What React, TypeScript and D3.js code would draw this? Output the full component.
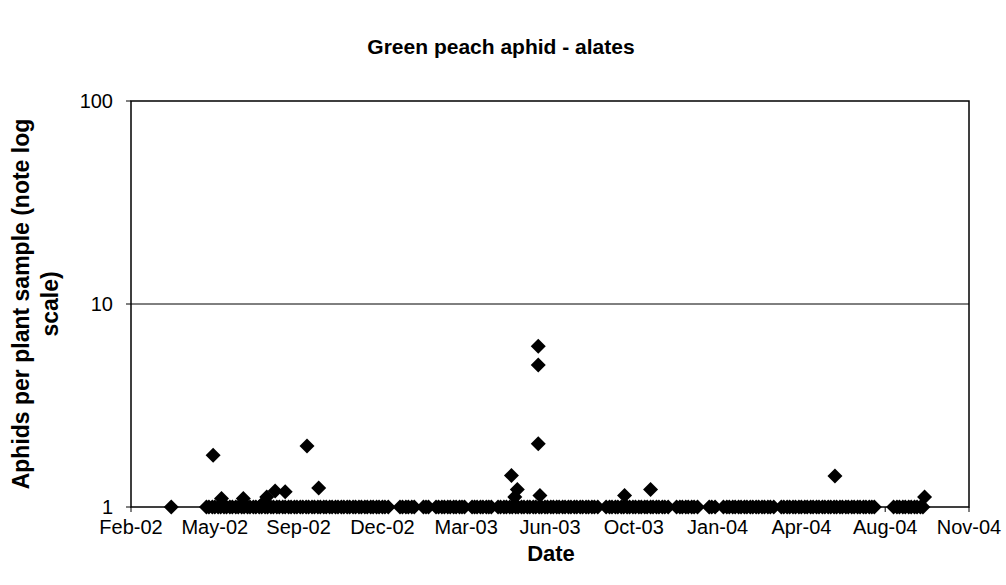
import React from "react";
import * as d3 from "d3";

// ---- data ----
const xTickDates = [
  "2002-02-14", "2002-05-25", "2002-09-02", "2002-12-11", "2003-03-21", "2003-06-29",
  "2003-10-07", "2004-01-15", "2004-04-24", "2004-08-02", "2004-11-10",
];
const xTickLabels = [
  "Feb-02", "May-02", "Sep-02", "Dec-02", "Mar-03", "Jun-03",
  "Oct-03", "Jan-04", "Apr-04", "Aug-04", "Nov-04",
];
const yTickValues = [1, 10, 100];
const yTickLabels = ["1", "10", "100"];

// sampling days (by month) where the mean was 1 (log-scale floor)
const baselineSamples: [string, number[]][] = [
  ["2002-04", [3]],
  ["2002-05", [15, 18, 22, 25, 29]],
  ["2002-06", [1, 5, 8, 12, 15, 19, 22, 26, 29]],
  ["2002-07", [3, 6, 10, 13, 17, 20, 24, 27, 31]],
  ["2002-08", [3, 7, 10, 14, 17, 21, 24, 28, 31]],
  ["2002-09", [4, 7, 11, 14, 18, 21, 25, 28]],
  ["2002-10", [2, 5, 9, 12, 16, 19, 23, 26, 30]],
  ["2002-11", [2, 6, 9, 13, 16, 20, 23, 27, 30]],
  ["2002-12", [4, 7, 11, 14, 18]],
  ["2003-01", [1, 4, 8, 11, 15, 18, 29]],
  ["2003-02", [1, 4, 13, 16, 20, 23, 27]],
  ["2003-03", [2, 6, 9, 13, 16, 19, 28, 31]],
  ["2003-04", [3, 7, 10, 14, 17, 20, 28]],
  ["2003-05", [1, 5, 8, 12, 15, 19, 22, 26, 29]],
  ["2003-06", [2, 5, 9, 12, 16, 19, 23, 26, 30]],
  ["2003-07", [3, 7, 10, 14, 17, 21, 24, 28, 31]],
  ["2003-08", [4, 7, 11, 14, 18, 21, 25]],
  ["2003-09", [4, 8, 11, 15, 18, 22, 25, 29]],
  ["2003-10", [2, 6, 9, 13, 16, 20, 23, 27, 30]],
  ["2003-11", [3, 6, 10, 13, 17, 27]],
  ["2003-12", [1, 4, 8, 11, 15, 18, 22]],
  ["2004-01", [5, 8, 12, 22, 26, 29]],
  ["2004-02", [2, 5, 9, 12, 16, 19, 23, 26]],
  ["2004-03", [1, 4, 8, 11, 15, 18, 22, 31]],
  ["2004-04", [3, 7, 10, 14, 17, 21, 24, 28]],
  ["2004-05", [1, 5, 8, 12, 15, 19, 22, 26, 29]],
  ["2004-06", [2, 5, 9, 12, 16, 19, 23, 26, 30]],
  ["2004-07", [3, 7, 10, 14, 17, 20]],
  ["2004-08", [12, 16, 19, 23, 26, 30]],
  ["2004-09", [2, 6, 9, 13, 16]],
];

// sampling dates with means above 1
const peakDates = [
  "2002-05-23", "2002-06-02", "2002-06-28", "2002-07-22", "2002-07-26", "2002-08-05", "2002-08-17",
  "2002-09-12", "2002-09-26",
  "2003-05-14", "2003-05-18", "2003-05-21", "2003-06-15", "2003-06-15", "2003-06-15", "2003-06-17",
  "2003-09-26", "2003-10-27",
  "2004-06-03", "2004-09-18",
];
const peakValues = [
  1.8, 1.1, 1.1, 1.05, 1.12, 1.2, 1.19,
  2.0, 1.24,
  1.43, 1.12, 1.22, 6.2, 5.0, 2.05, 1.14,
  1.14, 1.22,
  1.42, 1.12,
];

const W = 1006;
const H = 585;
const M = { left: 131, right: 969, top: 101, bottom: 507 };
const FONT = "'Liberation Sans', Arial, Helvetica, sans-serif";

export default function App() {
  const parse = d3.timeParse("%Y-%m-%d");
  const tickDates = xTickDates.map((d) => parse(d) as Date);
  const x = d3
    .scaleTime()
    .domain([tickDates[0], tickDates[tickDates.length - 1]])
    .range([M.left, M.right]);
  const y = d3.scaleLog().domain([1, 100]).range([M.bottom, M.top]);

  const baselinePoints = baselineSamples.flatMap(([month, days]) =>
    days.map((day) => ({ date: parse(`${month}-${String(day).padStart(2, "0")}`) as Date, v: 1 }))
  );
  const points = [
    ...baselinePoints,
    ...peakDates.map((d, i) => ({ date: parse(d) as Date, v: peakValues[i] })),
  ];

  const r = 7.5;
  const diamond = `M0,${-r}L${r},0L0,${r}L${-r},0Z`;

  return (
    <div style={{ position: "absolute", left: 0, top: 0 }}>
      <svg width={W} height={H} style={{ display: "block", background: "#fff" }} fontFamily={FONT}>
        <rect x={0} y={0} width={W} height={H} fill="#fff" />
        {/* title */}
        <text x={501} y={54} textAnchor="middle" fontSize={21} fontWeight="bold" fill="#000">
          Green peach aphid - alates
        </text>

        {/* gridline */}
        {yTickValues
          .filter((v) => v !== 1 && v !== 100)
          .map((v) => (
            <line key={v} x1={M.left} x2={M.right} y1={y(v)} y2={y(v)} stroke="#000" strokeWidth={1} />
          ))}

        {/* frame */}
        <rect
          x={M.left}
          y={M.top}
          width={M.right - M.left}
          height={M.bottom - M.top}
          fill="none"
          stroke="#000"
          strokeWidth={1.5}
        />

        {/* y ticks */}
        {yTickValues.map((v, i) => (
          <g key={v}>
            <line x1={M.left - 5} x2={M.left} y1={y(v)} y2={y(v)} stroke="#000" strokeWidth={1} />
            <text x={113} y={y(v)} dy="0.34em" textAnchor="end" fontSize={20} fill="#000">
              {yTickLabels[i]}
            </text>
          </g>
        ))}

        {/* x ticks */}
        {tickDates.map((d, i) => (
          <g key={i}>
            <line x1={x(d)} x2={x(d)} y1={M.bottom} y2={M.bottom + 5} stroke="#000" strokeWidth={1} />
            <text x={x(d)} y={534} textAnchor="middle" fontSize={20} fill="#000">
              {xTickLabels[i]}
            </text>
          </g>
        ))}

        {/* axis titles */}
        <text x={551} y={561} textAnchor="middle" fontSize={22} fontWeight="bold" fill="#000">
          Date
        </text>
        <g transform={`translate(0, ${(M.top + M.bottom) / 2}) rotate(-90)`}>
          <text x={0} y={29} textAnchor="middle" fontSize={23} fontWeight="bold" fill="#000">
            Aphids per plant sample (note log
          </text>
          <text x={0} y={58} textAnchor="middle" fontSize={23} fontWeight="bold" fill="#000">
            scale)
          </text>
        </g>

        {/* markers */}
        {points.map((p, i) => (
          <path key={i} d={diamond} transform={`translate(${x(p.date)},${y(p.v)})`} fill="#000" />
        ))}
      </svg>
    </div>
  );
}
